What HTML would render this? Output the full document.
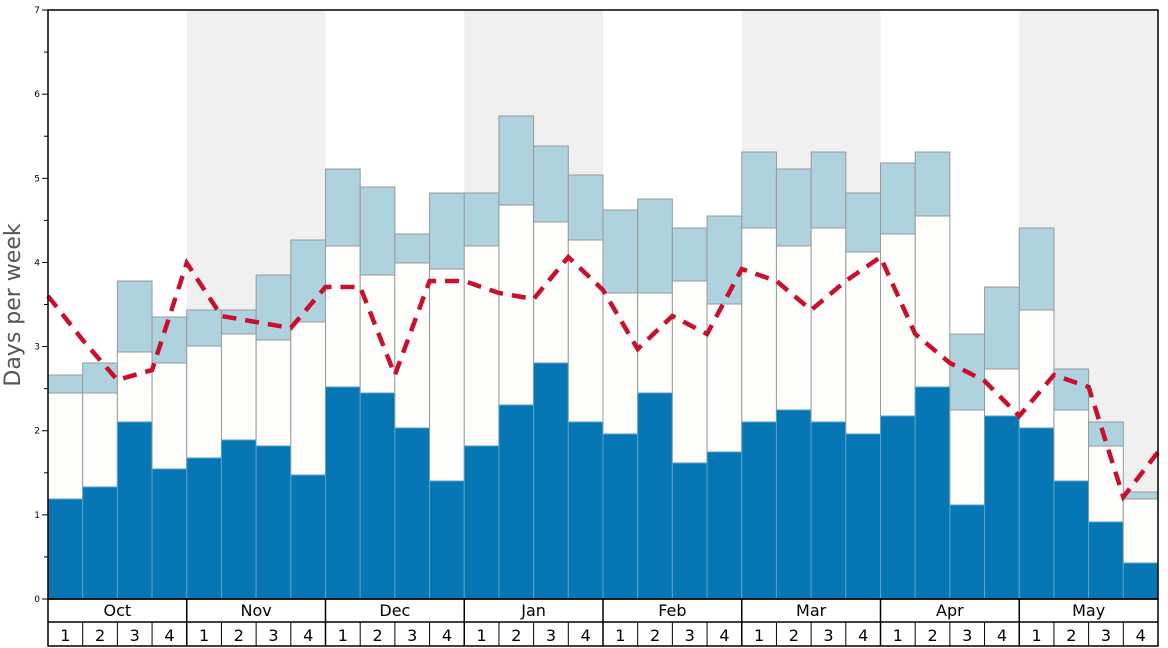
<!DOCTYPE html>
<html><head><meta charset="utf-8"><style>
html,body{margin:0;padding:0;background:#fff;}
svg{display:block;font-family:"DejaVu Sans","Liberation Sans",sans-serif;}
</style></head><body>
<svg id="c" width="1168" height="648" viewBox="0 0 1168 648" xmlns="http://www.w3.org/2000/svg">
<g id="g"></g>
<text x="20" y="305" transform="rotate(-90 20 305)" text-anchor="middle" font-size="22" fill="#555">Days per week</text>
</svg>
<script>
var s='';
var L=48,R=1158,T=10,B=599,w=(R-L)/32;
// shaded bands
[[4,8],[12,16],[20,24],[28,32]].forEach(function(b){s+='<rect x="'+(L+b[0]*w)+'" y="'+T+'" width="'+(4*w)+'" height="'+(B-T)+'" fill="#f0f0f0"/>';});
var d=[[499,393,375],[487,393,363],[422,352,281],[469,363,317],[458,346,310],[440,334,310],[446,340,275],[475,322,240],[387,246,169],[393,275,187],[428,263,234],[481,269,193],[446,246,193],[405,205,116],[363,222,146],[422,240,175],[434,293,210],[393,293,199],[463,281,228],[452,304,216],[422,228,152],[410,246,169],[422,228,152],[434,252,193],[416,234,163],[387,216,152],[505,410,334],[416,369,287],[428,310,228],[481,410,369],[522,446,422],[563,499,492]];
d.forEach(function(v,i){var x=L+i*w;
s+='<rect x="'+x+'" y="'+v[2]+'" width="'+w+'" height="'+(v[1]-v[2])+'" fill="#aed3df" stroke="#999" stroke-width="1"/>';
s+='<rect x="'+x+'" y="'+v[1]+'" width="'+w+'" height="'+(v[0]-v[1])+'" fill="#fdfdfb" stroke="#999" stroke-width="1"/>';
s+='<rect x="'+x+'" y="'+v[0]+'" width="'+w+'" height="'+(B-v[0])+'" fill="#0776b5" stroke="#5aa0cc" stroke-width="1"/>';});
var p=[296,340,380,370,263,316,322,328,287,287,375,281,281,293,299,257,290,349,316,334,269,281,310,281,257,334,363,381,416,375,387,497,452];
s+='<polyline fill="none" stroke="#c8102e" stroke-width="4.5" stroke-dasharray="14,9" points="'+p.map(function(y,i){return (L+i*w)+','+y;}).join(' ')+'"/>';
// y axis
for(var k=0;k<=14;k++){var y=B-k*84.14/2;var len=k%2?4:6;s+='<line x1="'+(L-len)+'" x2="'+L+'" y1="'+y+'" y2="'+y+'" stroke="#000" stroke-width="1"/>';
if(k%2==0)s+='<text x="'+(L-8)+'" y="'+(y+3)+'" font-size="9" text-anchor="end">'+(k/2)+'</text>';}
s+='<rect x="'+L+'" y="'+T+'" width="'+(R-L)+'" height="'+(B-T)+'" fill="none" stroke="#000" stroke-width="1.5"/>';
// bottom axis
s+='<rect x="'+L+'" y="'+B+'" width="'+(R-L)+'" height="47" fill="none" stroke="#000" stroke-width="1.5"/>';
s+='<line x1="'+L+'" x2="'+R+'" y1="622" y2="622" stroke="#000" stroke-width="1.5"/>';
var m=['Oct','Nov','Dec','Jan','Feb','Mar','Apr','May'];
m.forEach(function(n,j){var x=L+j*4*w;if(j>0)s+='<line x1="'+x+'" x2="'+x+'" y1="'+B+'" y2="646" stroke="#000" stroke-width="1.5"/>';
s+='<text x="'+(x+2*w)+'" y="616" font-size="16" text-anchor="middle">'+n+'</text>';
for(var q=0;q<4;q++){var xx=x+q*w;if(q>0)s+='<line x1="'+xx+'" x2="'+xx+'" y1="622" y2="646" stroke="#000" stroke-width="1"/>';
s+='<text x="'+(xx+w/2)+'" y="641" font-size="16" text-anchor="middle">'+(q+1)+'</text>';}});
document.getElementById('g').innerHTML=s;
</script>
</body></html>
